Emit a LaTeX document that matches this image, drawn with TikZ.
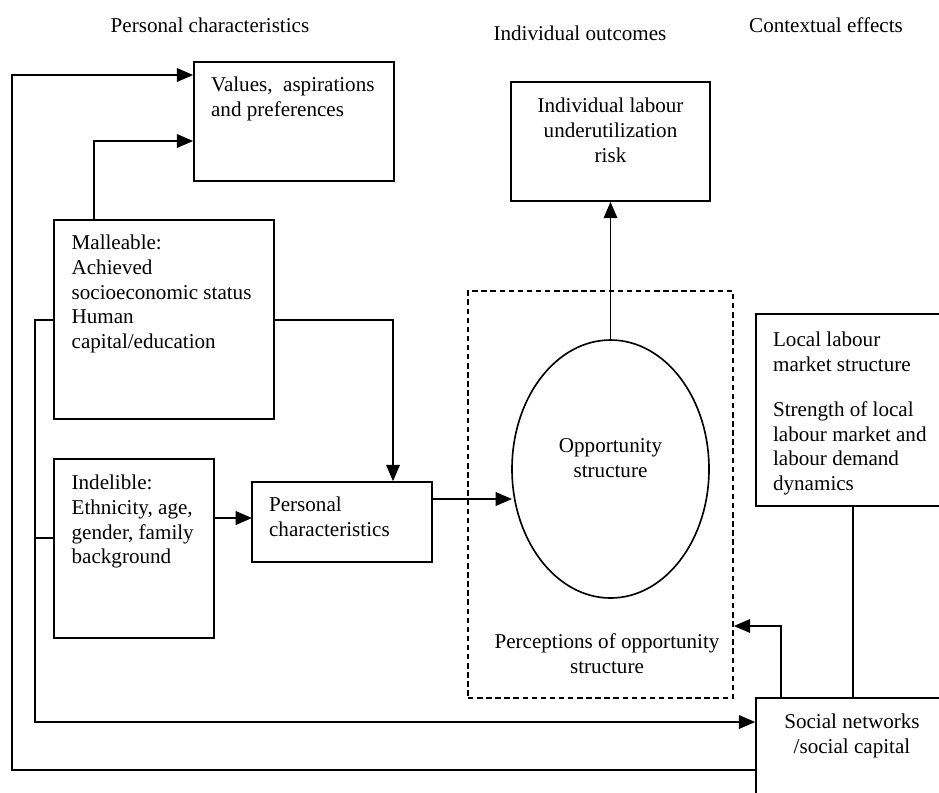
\documentclass[tikz,border=0pt]{standalone}
\usepackage{fontspec}
\setmainfont{Liberation Serif}
\usepackage{tikz}
\usetikzlibrary{positioning,arrows.meta,fit,shapes.geometric}

\begin{document}
\begin{tikzpicture}[x=0.55pt, y=-0.55pt, >={Triangle[length=9pt,width=7.5pt]}, line width=0.9pt,
	box/.style={draw, inner sep=0pt},
	txt/.style={inner sep=0pt, align=left, font=\fontsize{11.6pt}{13.6pt}\selectfont},
	ctxt/.style={txt, align=center}]
	\path[use as bounding box, clip] (0,0) rectangle (939,792);
	% headings
	\node[txt, anchor=north] (hdpers) at (210,17) {Personal characteristics};
	\node[txt, anchor=north] (hdout) at (580,25) {Individual outcomes};
	\node[txt, anchor=north] (hdctx) at (826,17) {Contextual effects};
	% boxes
	\node[box, fit={(194,62) (394,181)}] (vals) {};
	\node[box, fit={(511,82) (710,201)}] (risk) {};
	\node[box, fit={(54,220) (274,419)}] (mall) {};
	\node[box, fit={(54,459) (214,638)}] (indel) {};
	\node[box, fit={(252,482) (432,562)}] (pers) {};
	\node[box, dash pattern=on 3pt off 2pt, fit={(468,291) (733,698)}] (percep) {};
	\node[draw, ellipse, inner sep=0pt, minimum width=197*0.55pt, minimum height=258*0.55pt] (opp) at (610.5,469) {};
	\node[box, fit={(756,314) (948,506)}] (local) {};
	\node[box, fit={(756,698) (948,830)}] (social) {};
	% box texts
	\node[txt, below right=8.2pt and 9.4pt of vals.north west] (valstxt) {Values, \ aspirations\\and preferences};
	\node[ctxt, below=8.8pt of risk.north] (risktxt) {Individual labour\\underutilization\\risk};
	\node[txt, below right=8.2pt and 9.7pt of mall.north west] (malltxt) {Malleable:\\Achieved\\socioeconomic status\\Human\\capital/education};
	\node[txt, below right=8.8pt and 9.7pt of indel.north west] (indeltxt) {Indelible:\\Ethnicity, age,\\gender, family\\background};
	\node[txt, below right=8.2pt and 9.4pt of pers.north west] (perstxt) {Personal\\characteristics};
	\node[ctxt, anchor=north] (opptxt) at (610.5,438) {Opportunity\\structure};
	\node[ctxt, anchor=north] (perceptxt) at (607,633) {Perceptions of opportunity\\structure};
	\node[txt, below right=10pt and 9.4pt of local.north west] (localtxt) {Local labour\\market structure\\[11pt]Strength of local\\labour market and\\labour demand\\dynamics};
	\node[ctxt, anchor=north] (socialtxt) at (852,713) {Social networks\\/social capital};
	% connectors
	\coordinate (lo) at (12,770);
	\coordinate (lt) at (12,75);
	\coordinate (mt) at (94,141);
	\coordinate (it) at (35,320);
	\coordinate (ij) at (35,538);
	\coordinate (ib) at (35,722);
	\coordinate (mr) at (393,320);
	\coordinate (ip) at (252,518);
	\coordinate (po) at (512,499);
	\coordinate (sn) at (781,626);
	\coordinate (lb) at (853,0);
	\draw[->] (social.west |- lo) -- (lo) -- (lt) -- (lt -| vals.west);
	\draw[->] (mall.north -| mt) -- (mt) -- (mt -| vals.west);
	\draw[->] (mall.west |- it) -- (it) -- (ib) -- (ib -| social.west);
	\draw (ij) -- (ij -| indel.west);
	\draw[->] (mall.east |- mr) -- (mr) -- (mr |- pers.north);
	\draw[->] (indel.east |- ip) -- (ip);
	\draw[->] (pers.east |- po) -- (po);
	\draw[->] (opp.north) -- (opp.north |- risk.south);
	\draw[->] (social.north -| sn) -- (sn) -- (sn -| percep.east);
	\draw (local.south -| lb) -- (lb |- social.north);
\end{tikzpicture}
\end{document}
